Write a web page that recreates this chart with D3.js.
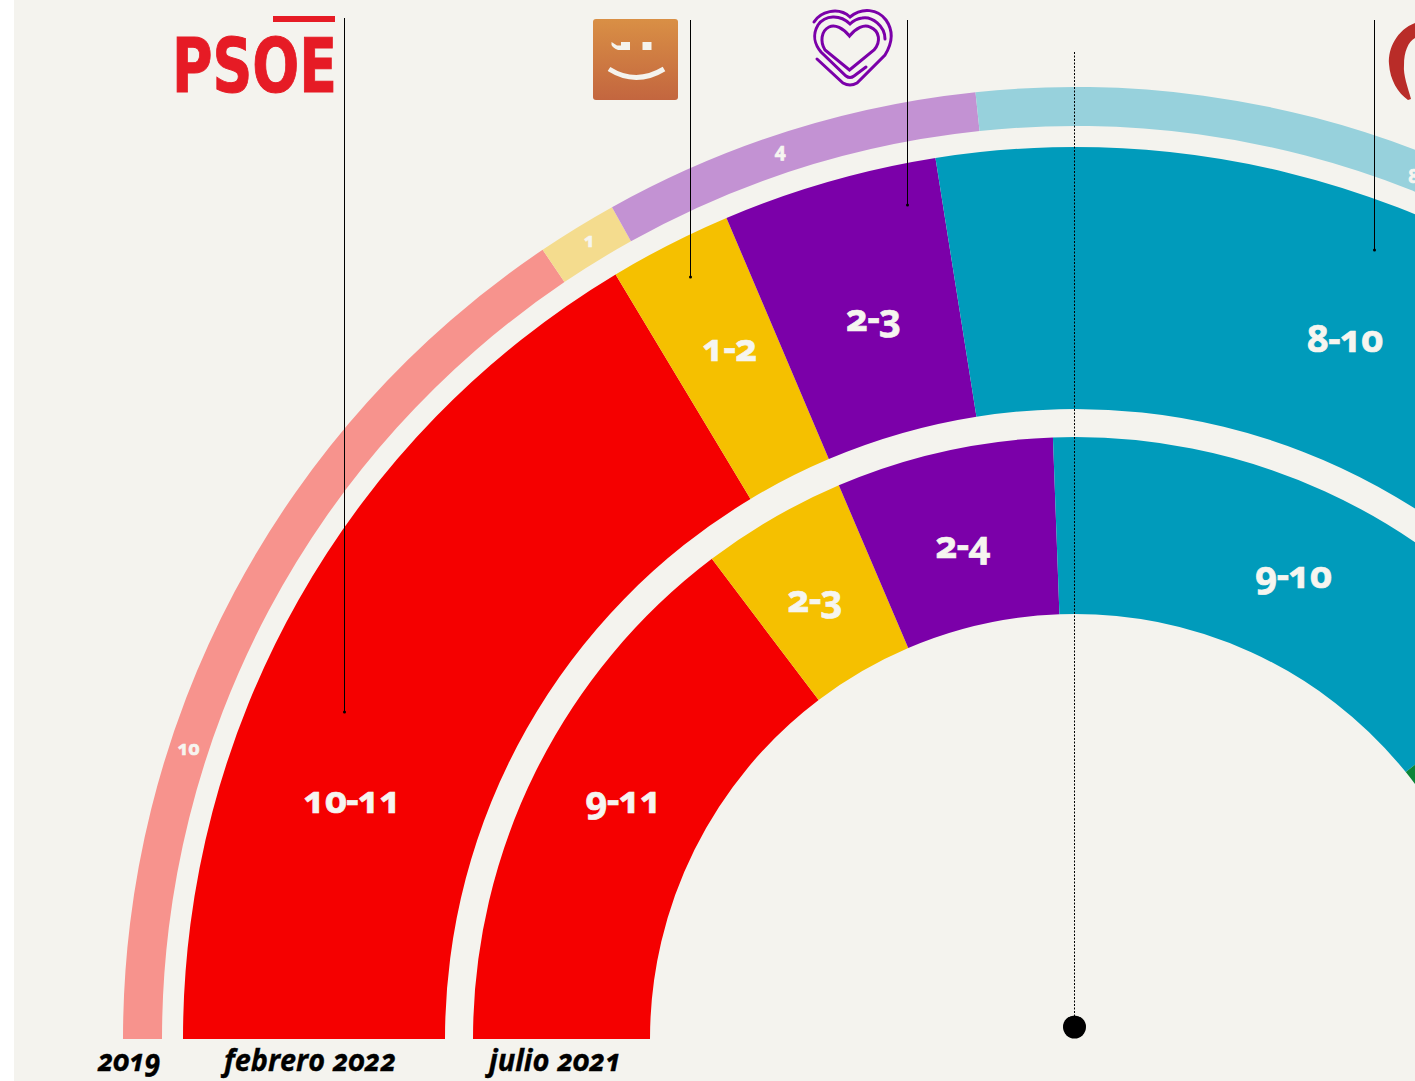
<!DOCTYPE html>
<html lang="es">
<head>
<meta charset="utf-8">
<title>Encuestas</title>
<script src="https://cdn.jsdelivr.net/npm/d3@7"></script>
<style>
    html, body { margin: 0; padding: 0; background: #fff; overflow: hidden; }
    svg { display: block; }
    text { font-family: "Open Sans", "Noto Sans", sans-serif; font-feature-settings: "onum" 1; }
    .bar-label { fill: #f6f5f0; stroke: #f6f5f0; stroke-width: 0.7; font-weight: 700; text-anchor: middle; dominant-baseline: central; }
    .ring-title { fill: #000; stroke: #000; stroke-width: 0.4; font-weight: 700; font-style: italic; font-size: 31px; text-anchor: middle; }
</style>
</head>
<body>
<div id="chart"></div>
<script>
// share of the half circle held by each party, in degrees
const parties = ['psoe', 'naranja', 'morado', 'azul', 'verde'];
const share2019 = [56, 4.9, 23.1, 55];
const shareFeb2022 = [59, 8, 14, 60.4];
const shareJul2021 = [52.9, 14, 21, 53.2, 20];
const labels2019 = ['10', '1', '4', '8'];
const labelsFeb2022 = ['10-11', '1-2', '2-3', '8-10'];
const labelsJul2021 = ['9-11', '2-3', '2-4', '9-10'];
const ringTitles = ['2019', 'febrero 2022', 'julio 2021'];

const colors = {psoe: '#f50000', naranja: '#f5c000', morado: '#7b00a9', azul: '#009bbb', verde: '#0a8538'};
const paleColors = {psoe: '#f7938d', naranja: '#f4dc8e', morado: '#c392d3', azul: '#97d1dc'};

const width = 1415, height = 1081;
const cx = 1075, cy = 1039;

const svg = d3.select('#chart').append('svg')
    .attr('width', width)
    .attr('height', height);

svg.append('rect')
    .attr('x', 14)
    .attr('width', width - 14)
    .attr('height', height)
    .attr('fill', '#f4f3ee');

const angle = d3.scaleLinear().domain([0, 180]).range([-Math.PI / 2, Math.PI / 2]);

// labels are not quite centred in the original, so each ring says where they sit
const rings = [
    {shares: share2019, labels: labels2019, inner: 913, outer: 952, palette: paleColors, size: 19, lift: 3,
        labelAngles: [18, 58.6, 71.6, 111.5], labelRadii: [932, 932, 934, 924], titleX: 129, titleW: 63},
    {shares: shareFeb2022, labels: labelsFeb2022, inner: 630, outer: 892, palette: colors, size: 38, lift: 6,
        labelAngles: [18, 63.3, 74.3, 111.2], labelRadii: [760, 769, 745, 746], titleX: 310, titleW: 172},
    {shares: shareJul2021, labels: labelsJul2021, inner: 425, outer: 602, palette: colors, size: 38, lift: 6,
        labelAngles: [27.5, 59.2, 77.1, 115.4], labelRadii: [509, 508, 503, 509], titleX: 555, titleW: 132}
];

const chart = svg.append('g').attr('transform', `translate(${cx}, ${cy})`);

rings.forEach((ring, r) => {
    const ends = Array.from(d3.cumsum(ring.shares));
    const arc = d3.arc().innerRadius(ring.inner).outerRadius(ring.outer);
    const g = chart.append('g').attr('class', 'ring');

    g.selectAll('path')
        .data(ring.shares)
        .enter().append('path')
        .attr('fill', (d, i) => ring.palette[parties[i]])
        .attr('d', (d, i) => arc({
            startAngle: angle(i ? ends[i - 1] : 0),
            endAngle: angle(ends[i])
        }));

    g.selectAll('text')
        .data(ring.labels)
        .enter().append('text')
        .attr('class', 'bar-label')
        .attr('font-size', ring.size)
        .attr('letter-spacing', r ? -0.5 : 0)
        .attr('transform', (d, i) => {
            const a = angle(ring.labelAngles[i]);
            const radius = ring.labelRadii[i];
            return `translate(${radius * Math.sin(a)}, ${-radius * Math.cos(a) - ring.lift})`;
        })
        .text(d => d);

    svg.append('text')
        .attr('class', 'ring-title')
        .attr('x', ring.titleX)
        .attr('y', 1071)
        .attr('textLength', ring.titleW)
        .attr('lengthAdjust', 'spacingAndGlyphs')
        .text(ringTitles[r]);
});

// leader lines from the logos down into the bars
const leaders = [[344.5, 18, 712], [690.5, 20, 277], [907.5, 20, 205], [1374.5, 20, 250]];
leaders.forEach(d => {
    svg.append('line')
        .attr('x1', d[0]).attr('x2', d[0])
        .attr('y1', d[1]).attr('y2', d[2])
        .attr('stroke', '#000').attr('stroke-width', 1);
    svg.append('circle')
        .attr('cx', d[0]).attr('cy', d[2]).attr('r', 1.5);
});

// majority line
svg.append('line')
    .attr('x1', 1074.5).attr('x2', 1074.5)
    .attr('y1', 52).attr('y2', 1027)
    .attr('stroke', '#000')
    .attr('stroke-width', 1)
    .attr('stroke-dasharray', '2 1.5');
svg.append('circle')
    .attr('cx', 1074.5).attr('cy', 1027).attr('r', 11.5);

// logos
const logos = svg.append('g').attr('class', 'logos');

logos.append('rect')
    .attr('x', 273).attr('y', 16)
    .attr('width', 62).attr('height', 6)
    .attr('fill', '#e61b25');
logos.append('text')
    .attr('x', 172)
    .attr('y', 92)
    .attr('textLength', 165)
    .attr('lengthAdjust', 'spacingAndGlyphs')
    .attr('fill', '#e61b25')
    .attr('stroke', '#e61b25')
    .attr('stroke-width', 1)
    .style('font-family', '"DejaVu Sans", sans-serif')
    .style('font-weight', 700)
    .style('font-size', '74px')
    .style('font-feature-settings', 'normal')
    .text('PSOE');

const grad = svg.append('defs').append('linearGradient')
    .attr('id', 'smile-grad')
    .attr('x1', 0).attr('x2', 0).attr('y1', 0).attr('y2', 1);
grad.append('stop').attr('offset', 0).attr('stop-color', '#d98f45');
grad.append('stop').attr('offset', 1).attr('stop-color', '#c3663f');

logos.append('rect')
    .attr('x', 593).attr('y', 19)
    .attr('width', 85).attr('height', 81)
    .attr('rx', 3)
    .attr('fill', 'url(#smile-grad)');
logos.append('path')
    .attr('d', 'M611.5,42 L617,45.5 L621,45.5 L621,42 L630,42 L630,50 L618,50 Q613,48 611.5,45 Z M642.5,42 L651.5,42 L651.5,50 L642.5,50 Z')
    .attr('fill', '#f4f3ee');
logos.append('path')
    .attr('d', 'M609,69 Q636,86 664,69')
    .attr('fill', 'none')
    .attr('stroke', '#f4f3ee')
    .attr('stroke-width', 5);

// nested heart
[
    'M814,22 C820,12 838,6 850,17 C862,7 878,9 886,20 C893,30 893,42 885,55 L857,83 Q850,87 843,83 L817,59',
    'M885,39 C885,26 872,16 862,18 Q855,19 850,24 C840,14 825,15 818,25 C812,35 815,45 821,52 L846,76 Q850,79 854,76 L866,67',
    'M849.5,36 C843,28 835,24 829,27 C821,31 820,42 825,50 L849.5,70 L874,50 C881,42 880,31 870,27 C864,24 856,28 849.5,36 Z'
].forEach(d => {
    logos.append('path')
        .attr('d', d)
        .attr('fill', 'none')
        .attr('stroke', colors.morado)
        .attr('stroke-width', 3)
        .attr('stroke-linecap', 'round');
});

// crescent cut off by the right edge
logos.append('path')
    .attr('d', 'M1415,23 C1397,30 1388,48 1389,64 C1390,80 1398,93 1408,100 L1411,99 C1408,88 1403,75 1404,65 C1404,52 1408,42 1415,38 Z')
    .attr('fill', '#b92c28');
</script>
</body>
</html>
